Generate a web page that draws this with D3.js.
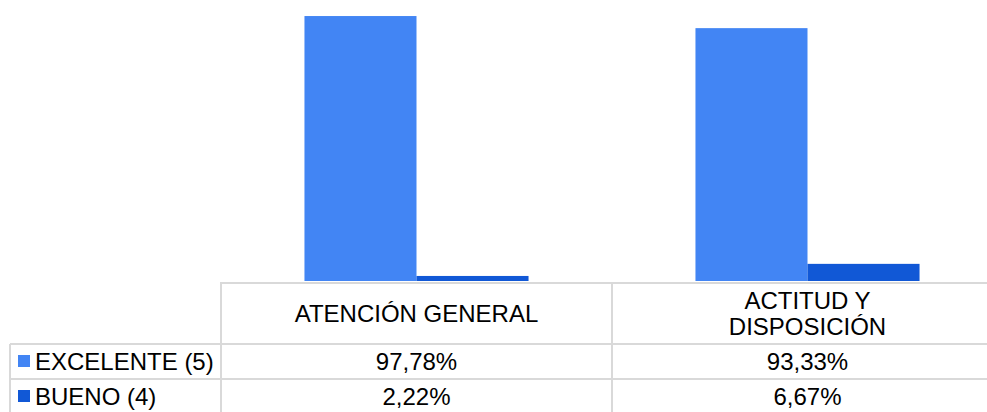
<!DOCTYPE html>
<html>
<head>
<meta charset="utf-8">
<script src="https://cdn.jsdelivr.net/npm/d3@7"></script>
<style>
  html, body { margin: 0; padding: 0; background: #ffffff; }
  svg { display: block; font-family: "Liberation Sans", Arial, sans-serif; }
</style>
</head>
<body>
<svg id="chart" width="987" height="412"></svg>
<script>
// Categories (each may wrap onto several lines in the table header)
const categories = ["ATENCIÓN GENERAL", "ACTITUD Y DISPOSICIÓN"];
const categoryLines = [["ATENCIÓN GENERAL"], ["ACTITUD Y", "DISPOSICIÓN"]];
const seriesNames = ["EXCELENTE (5)", "BUENO (4)"];
const seriesColors = ["#4285f4", "#1158d6"];
// Values as fractions
const excelente = [0.9778, 0.9333];
const bueno = [0.0222, 0.0667];
const seriesValues = [excelente, bueno];

const fmt = v => (v * 100).toFixed(2).replace(".", ",") + "%";

const svg = d3.select("#chart");

// Layout
const tableLeft = 10, plotLeft = 221, plotRight = 1003;
const baseY = 282, topY = 10;
const headerBottom = 344, row1Bottom = 379, row2Bottom = 414;

const x0 = d3.scaleBand().domain(categories).range([plotLeft, plotRight]).paddingInner(0).paddingOuter(0);
const x1 = d3.scaleBand().domain(seriesNames).range([0, x0.bandwidth()]).paddingInner(0).paddingOuter(0.745);
const y = d3.scaleLinear().domain([0, 1]).range([baseY, topY]);

// Bars
const barData = [];
categories.forEach((c, ci) => {
  seriesNames.forEach((s, si) => {
    barData.push({ cat: c, series: s, value: seriesValues[si][ci], color: seriesColors[si] });
  });
});

svg.append("g").selectAll("rect")
  .data(barData)
  .join("rect")
  .attr("x", d => x0(d.cat) + x1(d.series))
  .attr("width", x1.bandwidth())
  .attr("y", d => y(d.value))
  .attr("height", d => y(0) - y(d.value) - 1)
  .attr("fill", d => d.color);

// Data table grid
const grid = svg.append("g").attr("stroke", "#d9d9d9").attr("stroke-width", 2).attr("fill", "none");
const colEdges = [plotLeft, ...categories.map(c => x0(c) + x0.bandwidth())];
// top line across category columns
grid.append("line").attr("x1", plotLeft).attr("x2", plotRight).attr("y1", baseY + 1).attr("y2", baseY + 1);
// row separators across full width
[headerBottom, row1Bottom, row2Bottom].forEach(yy => {
  grid.append("line").attr("x1", tableLeft).attr("x2", plotRight).attr("y1", yy).attr("y2", yy);
});
// vertical lines
grid.append("line").attr("x1", tableLeft).attr("x2", tableLeft).attr("y1", headerBottom).attr("y2", row2Bottom);
colEdges.forEach(xx => {
  grid.append("line").attr("x1", xx).attr("x2", xx).attr("y1", baseY).attr("y2", row2Bottom);
});

const fs = 24;
const txt = svg.append("g").attr("fill", "#000").attr("font-size", fs);

// Header labels
categories.forEach((c, ci) => {
  const cx = x0(c) + x0.bandwidth() / 2;
  const lines = categoryLines[ci];
  const lh = 26;
  const mid = (baseY + headerBottom) / 2;
  lines.forEach((ln, li) => {
    txt.append("text")
      .attr("x", cx)
      .attr("y", mid + (li - (lines.length - 1) / 2) * lh + 8.5)
      .attr("text-anchor", "middle")
      .text(ln);
  });
});

// Value rows and legend keys
const rowTops = [headerBottom, row1Bottom];
const rowBottoms = [row1Bottom, row2Bottom];
seriesNames.forEach((s, si) => {
  const mid = (rowTops[si] + rowBottoms[si]) / 2;
  svg.append("rect")
    .attr("x", 18).attr("y", mid - 6.5)
    .attr("width", 12).attr("height", 12)
    .attr("fill", seriesColors[si]);
  txt.append("text")
    .attr("x", 35).attr("y", mid + 8.5)
    .text(s);
  categories.forEach((c, ci) => {
    txt.append("text")
      .attr("x", x0(c) + x0.bandwidth() / 2)
      .attr("y", mid + 8.5)
      .attr("text-anchor", "middle")
      .text(fmt(seriesValues[si][ci]));
  });
});
</script>
</body>
</html>
